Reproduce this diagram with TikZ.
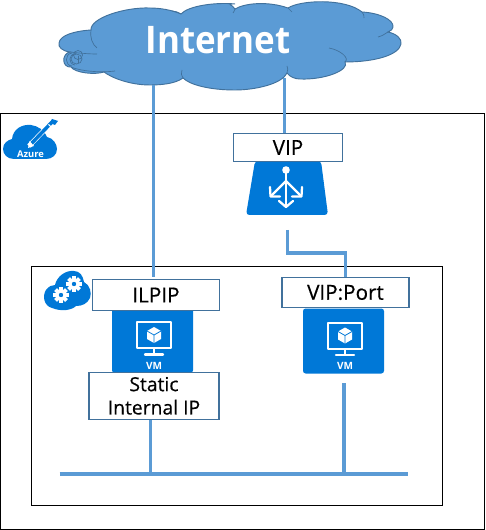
\documentclass[tikz,border=0pt]{standalone}
\usepackage{fontspec}
\setmainfont{Open Sans}
\newfontfamily\tagfont[FakeBold=0.35]{Open Sans}
\definecolor{lnk}{HTML}{5B9BD5}
\definecolor{edge}{HTML}{41719C}
\definecolor{az}{HTML}{0078D7}
\tikzset{
  link/.style={draw=lnk,line width=2.4pt},
  frame/.style={draw=black,line width=0.9pt},
  tag/.style={draw=edge,fill=white,line width=0.8pt,inner sep=0pt,font=\tagfont\fontsize{15.5}{21}\selectfont,align=center,text=black},
  vmbox/.style={fill=az,rounded corners=2pt},
  ico/.style={draw=white,line width=1.3pt,line cap=round,line join=round},
  inner/.style={draw=edge,line width=0.5pt},
}
\newcommand{\vmicon}[3]{% name, x, y top-left
  \begin{scope}[shift={(#2,#3)}]
    \fill[vmbox] (0,0) rectangle (81,65);
    \draw[ico,line width=1.5pt] (25,14) rectangle (59,40);
    \draw[ico,line width=2pt] (42,41) -- (42,45);
    \draw[ico,line width=1.8pt] (33,46.5) -- (51,46.5);
    \fill[white] (42,19) -- (49,23) -- (49,31) -- (42,35) -- (35,31) -- (35,23) -- cycle;
    \draw[az,line width=.6pt] (35,23) -- (42,27) -- (49,23) (42,27) -- (42,35);
    \node[inner sep=0pt,text=white,font=\bfseries\fontsize{7.5}{8}\selectfont] (#1) at (42,57.5) {VM};
  \end{scope}
}
\newcommand{\gearicon}[2]{%
  \foreach \a in {0,45,...,315}{\fill[white,rotate around={\a:(#1,#2)}] (#1-1.8,#2-7.6) rectangle (#1+1.8,#2+7.6);}
  \fill[white] (#1,#2) circle (5.6);
  \fill[az] (#1,#2) circle (2.2);
}
\begin{document}
\begin{tikzpicture}[x=0.75pt,y=-0.75pt]
\useasboundingbox (0,0) rectangle (485,530);
% frames
\draw[frame] (0.7,113.5) rectangle (484.5,529.5);
\draw[frame] (31.5,266.5) rectangle (442.5,505.5);
% cloud
\path[fill=lnk,draw=edge,line width=.7pt]
  (59,43) .. controls (60,35) and (75,31) .. (91,30)
  .. controls (90,18) and (125,7) .. (150,8)
  .. controls (160,8) and (172,10) .. (181,14)
  .. controls (188,6) and (215,2) .. (235,4)
  .. controls (225,4) and (232,4) .. (235,9)
  .. controls (245,3) and (268,1) .. (288,8)
  .. controls (300,0) and (345,-2) .. (362,12)
  .. controls (380,13) and (394,20) .. (393,27)
  .. controls (393,29) and (391,31) .. (388,32)
  .. controls (397,34) and (402,39) .. (401,44)
  .. controls (399,55) and (375,62) .. (345,62)
  .. controls (350,70) and (325,80) .. (300,79)
  .. controls (295,79) and (290,77) .. (287,73)
  .. controls (282,84) and (255,90) .. (235,90)
  .. controls (210,90) and (190,85) .. (183,78)
  .. controls (175,84) and (160,85) .. (150,85)
  .. controls (130,85) and (112,78) .. (104,72)
  .. controls (95,75) and (75,73) .. (71,67)
  .. controls (62,68) and (61,54) .. (70,52)
  .. controls (62,51) and (58,47) .. (59,43) -- cycle;
\draw[inner] (91,30) .. controls (90,38) and (92,44) .. (97,48);
\draw[inner] (70,52) .. controls (78,53) and (88,54) .. (97,54);
\draw[inner] (71,67) .. controls (80,71) and (100,73) .. (115,71);
\draw[inner] (183,78) .. controls (181,76) and (181,73) .. (182,70);
\draw[inner] (287,73) .. controls (288,70) and (288,68) .. (287,66);
\draw[inner] (329,48) .. controls (340,50) and (350,58) .. (345,62);
\draw[inner] (388,32) .. controls (385,34) and (382,36) .. (378,37);
\draw[inner] (181,14) .. controls (178,12) and (175,11) .. (172,11);
\draw[inner] (235,9) .. controls (234,11) and (234,12) .. (233,13);
\draw[inner] (288,8) .. controls (290,10) and (291,11) .. (292,12);
\draw[inner] (362,12) .. controls (364,14) and (364,16) .. (364,18);
\draw[inner] (72,53) .. controls (64,54) and (65,66) .. (72,66);
\draw[inner] (76,53.5) .. controls (68,54) and (68,64) .. (75,65);
\draw[inner] (78,55) circle (4.5);
\draw[inner] (76.5,59) ellipse (5.5 and 5);
\draw[inner] (78,56) -- (78,63);
\node[inner sep=0pt,text=white,xscale=.92,font=\bfseries\fontsize{28.5}{34}\selectfont] (inet) at (218,40) {Internet};
% anchors
\coordinate (a1) at (153.5,85);
\coordinate (b1) at (153.5,277);
\coordinate (a2) at (284.5,78);
% links
\draw[link] (a1) -- (b1);
\draw[link] (a2) -- (284.5,134);
% LB
\path[fill=az,rounded corners=2.5pt] (255,161) -- (321,161) -- (328,215) -- (246,215) -- cycle;
\begin{scope}[shift={(286,170)}]
  \fill[white] (0,0) circle (3.8);
  \draw[ico,line width=1.7pt] (0,2) -- (0,37);
  \draw[ico,line width=1.7pt] (0,11) -- (-15,26);
  \draw[ico,line width=1.7pt] (0,11) -- (15,26);
  \draw[ico,line width=1.7pt] (-7,31) -- (0,37) -- (7,31);
  \draw[ico,line width=1.7pt] (-16,17) -- (-15.5,26.5) -- (-6,26.5);
  \draw[ico,line width=1.7pt] (16,17) -- (15.5,26.5) -- (6,26.5);
\end{scope}
\node[tag,minimum width=109pt*0.75,minimum height=28pt*0.75] (vip) at (288,147.5) {VIP};
% LB to VIP:Port
\coordinate (c1) at (287.5,230);
\draw[link] (c1) -- (287.5,253) -- (345.5,253) -- (345.5,278);
% Azure icon
\path[fill=az] (14,159) .. controls (7,159) and (3,154) .. (3,149)
  .. controls (3,143) and (8,140) .. (12,139)
  .. controls (13,129) and (22,124) .. (31,125)
  .. controls (38,126) and (44,130) .. (47,137)
  .. controls (53,138) and (57,144) .. (57,149)
  .. controls (57,155) and (52,159) .. (46,159) -- cycle;
\draw[white,line width=3.6pt] (29,146) -- (52,122);
\draw[az,line width=2.6pt] (31,144) -- (53,121);
\fill[white] (28,148) -- (29.5,141) -- (34,146) -- cycle;
\fill[az] (52,119) -- (58,121) -- (55,125) -- (50,123) -- cycle;
\draw[white,line width=.8pt] (48.5,124.5) -- (53,129);
\node[inner sep=0pt,text=white,font=\bfseries\fontsize{7}{8}\selectfont] (azt) at (30.5,154) {Azure};
% gear cloud
\path[fill=az] (52,308) .. controls (44,306) and (42,296) .. (46,290)
  .. controls (49,286) and (52,285) .. (55,285)
  .. controls (57,276) and (66,270) .. (74,271)
  .. controls (80,271) and (83,276) .. (84,282)
  .. controls (90,285) and (92,293) .. (90,298)
  .. controls (87,304) and (82,306) .. (76,306)
  .. controls (72,310) and (62,312) .. (52,308) -- cycle;
\gearicon{61}{295}
\gearicon{74}{284}
% VMs
\vmicon{vm1}{112}{308}
\vmicon{vm2}{303}{308.5}
\node[tag,minimum width=127pt*0.75,minimum height=31pt*0.75] (ilpip) at (156,295) {ILPIP};
\node[tag,minimum width=127pt*0.75,minimum height=30pt*0.75] (vport) at (345.5,292.5) {VIP:Port};
\node[tag,minimum width=130pt*0.75,minimum height=47pt*0.75,font=\tagfont\fontsize{14.5}{17.5}\selectfont] (sip) at (154,395.8) {Static\\Internal IP};
% bus
\coordinate (bl) at (59.5,474);
\coordinate (br) at (408,474);
\draw[link] (bl) -- (br);
\draw[link] (sip.south -| 150.5,0) -- (150.5,474);
\draw[link] (344,383) -- (344,474);
\end{tikzpicture}
\end{document}
